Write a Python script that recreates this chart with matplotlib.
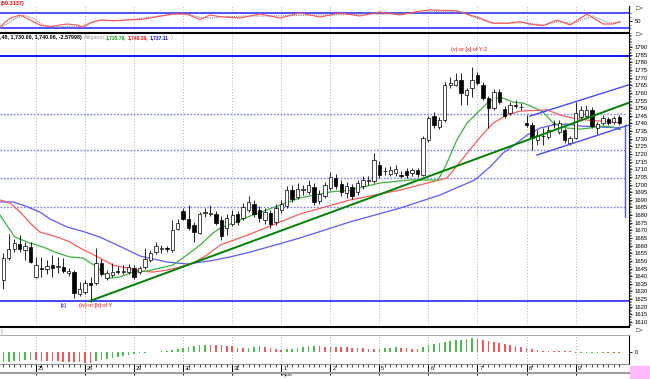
import matplotlib
matplotlib.use("Agg")
import matplotlib.pyplot as plt
from matplotlib.lines import Line2D
from matplotlib.patches import Rectangle

plt.rcParams['font.family'] = ['Liberation Sans', 'DejaVu Sans']

# ---- price bars
opens = [1637.5, 1651.9, 1657.8, 1661.1, 1657.1, 1659.1, 1639.5, 1645.4, 1644.7, 1647.3,
         1646.0, 1646.0, 1642.1, 1642.7, 1628.3, 1629.6, 1635.5, 1635.5, 1648.6, 1638.8,
         1640.8, 1643.4, 1643.0, 1642.7, 1645.4, 1642.7, 1646.0, 1650.6, 1655.8, 1657.8,
         1658.1, 1657.1, 1670.9, 1682.7, 1677.4, 1673.5, 1668.3, 1681.4, 1681.0, 1680.7,
         1676.8, 1671.5, 1674.2, 1680.7, 1678.1, 1683.3, 1687.2, 1683.3, 1676.8, 1681.3,
         1675.5, 1683.3, 1686.0, 1696.4, 1691.8, 1696.4, 1695.1, 1698.4, 1689.2, 1692.5,
         1697.7, 1704.3, 1700.3, 1694.4, 1698.4, 1695.1, 1699.0, 1702.3, 1702.3, 1712.8,
         1708.9, 1706.9, 1707.5, 1706.2, 1708.8, 1707.5, 1709.5, 1706.2, 1729.1, 1744.8,
         1737.6, 1742.2, 1765.1, 1765.1, 1768.4, 1758.6, 1763.2, 1771.7, 1765.1, 1756.6,
         1750.1, 1760.5, 1749.4, 1746.8, 1752.0, 1750.7, 1740.3, 1739.0, 1729.1, 1731.7,
         1731.1, 1739.6, 1734.4, 1735.7, 1727.2, 1730.4, 1744.2, 1744.8, 1748.8, 1737.0,
         1740.3, 1742.9, 1740.9, 1744.2]
highs = [1655.2, 1667.6, 1664.3, 1667.0, 1662.4, 1662.4, 1652.6, 1652.6, 1650.6, 1653.9,
         1652.6, 1651.9, 1645.4, 1644.0, 1636.2, 1637.5, 1639.5, 1658.4, 1651.2, 1644.0,
         1648.6, 1646.7, 1647.3, 1648.0, 1647.3, 1646.7, 1658.4, 1657.1, 1662.4, 1660.4,
         1659.7, 1676.8, 1677.4, 1684.6, 1686.6, 1675.5, 1682.0, 1684.6, 1686.6, 1682.7,
         1679.4, 1680.7, 1683.3, 1682.7, 1687.9, 1692.5, 1689.9, 1686.0, 1684.6, 1683.3,
         1687.2, 1689.9, 1699.0, 1699.7, 1701.0, 1699.7, 1703.0, 1701.0, 1696.4, 1701.6,
         1708.2, 1706.9, 1703.0, 1701.6, 1700.3, 1703.0, 1705.6, 1705.6, 1720.6, 1715.4,
         1711.5, 1712.1, 1712.8, 1708.8, 1710.8, 1710.8, 1710.8, 1731.7, 1744.8, 1747.5,
         1744.2, 1767.1, 1770.4, 1773.0, 1773.0, 1763.2, 1776.9, 1773.6, 1767.1, 1757.9,
         1762.5, 1762.5, 1751.4, 1754.0, 1755.3, 1753.3, 1745.5, 1740.9, 1735.7, 1737.0,
         1738.3, 1742.2, 1742.2, 1737.0, 1731.7, 1754.0, 1751.4, 1752.0, 1750.7, 1740.9,
         1745.5, 1744.2, 1744.8, 1745.5]
lows = [1631.6, 1650.6, 1655.8, 1655.8, 1650.6, 1648.6, 1638.8, 1639.5, 1641.4, 1639.5,
        1642.1, 1642.1, 1640.1, 1625.7, 1627.0, 1628.3, 1623.1, 1634.2, 1640.1, 1637.5,
        1639.5, 1641.4, 1641.4, 1641.4, 1638.2, 1641.4, 1644.7, 1649.3, 1654.5, 1655.2,
        1655.8, 1655.8, 1670.2, 1676.8, 1670.2, 1662.4, 1667.6, 1678.7, 1679.4, 1673.5,
        1663.7, 1667.0, 1672.8, 1673.5, 1676.8, 1682.0, 1678.7, 1675.5, 1674.2, 1671.5,
        1673.5, 1681.3, 1684.6, 1688.6, 1690.5, 1693.1, 1693.8, 1686.6, 1687.2, 1691.2,
        1696.4, 1697.1, 1692.5, 1691.2, 1690.5, 1693.1, 1697.1, 1699.7, 1701.0, 1704.3,
        1706.2, 1705.6, 1705.6, 1704.3, 1704.3, 1705.6, 1704.9, 1705.6, 1727.8, 1737.0,
        1736.3, 1740.9, 1763.2, 1764.5, 1752.0, 1752.0, 1757.3, 1765.1, 1755.3, 1737.0,
        1748.8, 1752.7, 1743.5, 1745.5, 1750.1, 1748.8, 1737.6, 1722.6, 1725.9, 1725.9,
        1729.8, 1737.0, 1733.1, 1727.2, 1725.9, 1729.8, 1742.9, 1743.5, 1737.0, 1733.1,
        1739.0, 1739.0, 1739.6, 1739.0]
closes = [1651.9, 1657.8, 1661.7, 1657.8, 1659.7, 1649.3, 1647.3, 1644.9, 1646.7, 1645.4,
          1646.3, 1643.4, 1643.4, 1629.0, 1631.6, 1635.5, 1634.2, 1648.6, 1641.4, 1642.1,
          1642.7, 1643.0, 1643.4, 1646.0, 1639.5, 1645.4, 1651.2, 1655.2, 1659.7, 1658.1,
          1657.8, 1670.2, 1674.8, 1677.4, 1671.5, 1668.9, 1680.7, 1681.7, 1681.4, 1674.8,
          1666.3, 1678.1, 1680.0, 1675.5, 1685.3, 1688.6, 1680.7, 1678.1, 1682.0, 1674.2,
          1684.6, 1687.2, 1696.4, 1690.5, 1697.1, 1696.8, 1699.7, 1688.6, 1693.8, 1699.7,
          1704.9, 1699.0, 1695.1, 1699.0, 1692.5, 1701.0, 1703.0, 1702.6, 1716.0, 1706.2,
          1708.6, 1709.5, 1710.2, 1705.9, 1706.2, 1709.5, 1706.9, 1730.4, 1743.5, 1739.0,
          1742.2, 1765.1, 1766.4, 1768.4, 1759.9, 1761.9, 1768.4, 1766.4, 1756.6, 1750.1,
          1760.5, 1754.0, 1744.8, 1752.0, 1751.7, 1750.9, 1739.0, 1730.4, 1732.4, 1731.8,
          1735.7, 1739.9, 1740.3, 1729.1, 1730.4, 1746.8, 1748.8, 1748.8, 1738.3, 1739.6,
          1743.5, 1740.3, 1743.5, 1740.3]

# ---- alligator lines (sampled off the chart, x in bar numbers)
jaw_x = [-0.6, 1.8, 4.0, 6.7, 8.6, 11.7, 15.0, 17.7, 20.9, 25.1, 30.0, 33.7, 37.9, 41.6, 45.3,
         54.4, 63.6, 72.8, 80.1, 86.5, 89.3, 91.7, 93.5, 96.1, 98.5, 100.9, 103.4, 105.8, 109.5, 113.2]
jaw_y = [1688.6, 1688.6, 1686.0, 1682.0, 1677.4, 1672.2, 1668.9, 1665.6, 1660.4, 1653.2, 1649.3,
         1648.0, 1650.0, 1652.6, 1655.8, 1665.0, 1675.5, 1684.6, 1693.1, 1703.0, 1711.5, 1720.6,
         1725.2, 1732.4, 1737.0, 1739.0, 1739.6, 1738.3, 1737.6, 1737.1]
teeth_x = [-0.6, 1.2, 3.1, 4.9, 6.7, 8.6, 10.4, 12.2, 14.1, 15.9, 17.7, 20.1, 22.7, 25.1, 27.5,
           30.0, 32.4, 34.8, 37.4, 39.8, 45.3, 54.4, 63.6, 72.8, 81.4, 84.4, 87.5, 89.9, 92.4,
           94.8, 99.8, 102.2, 104.5, 107.1, 109.5, 113.2]
teeth_y = [1689.9, 1687.9, 1682.0, 1674.8, 1668.9, 1667.0, 1665.0, 1662.4, 1658.4, 1655.2, 1651.9,
           1647.3, 1645.4, 1643.4, 1642.7, 1644.0, 1646.0, 1648.6, 1653.9, 1660.4, 1667.6, 1680.7,
           1689.9, 1696.4, 1704.3, 1717.4, 1731.1, 1740.3, 1745.5, 1748.1, 1748.8, 1745.5, 1743.5,
           1742.2, 1741.6, 1740.4]
lips_x = [-0.6, 2.1, 4.9, 7.3, 9.9, 12.2, 14.6, 17.2, 18.3, 19.6, 21.4, 23.8, 26.4, 28.8, 31.1,
          33.7, 36.1, 38.5, 39.8, 45.3, 50.8, 54.4, 59.9, 63.6, 69.1, 74.6, 79.8, 81.4, 83.2, 85.1,
          86.9, 88.8, 90.2, 91.7, 93.5, 95.4, 97.2, 99.0, 100.9, 103.4, 105.8, 107.6, 109.5, 111.9, 113.2]
lips_y = [1680.0, 1665.6, 1661.7, 1659.1, 1655.2, 1652.6, 1651.9, 1646.0, 1642.1, 1638.8, 1639.5,
          1642.7, 1643.4, 1645.4, 1647.3, 1653.9, 1660.4, 1668.3, 1671.5, 1679.4, 1686.6, 1691.2,
          1695.1, 1696.4, 1701.0, 1703.0, 1703.0, 1714.1, 1729.1, 1740.3, 1746.8, 1753.3, 1756.6,
          1756.6, 1754.0, 1753.3, 1750.7, 1747.5, 1740.3, 1737.0, 1736.3, 1737.0, 1738.3, 1737.6, 1735.8]

# ---- drawn lines
trend_x = [15.9, 114.8]
trend_y = [1623.8, 1753.6]
chan_up_x = [96.6, 114.8]
chan_up_y = [1744.8, 1765.3]
chan_lo_x = [97.9, 114.8]
chan_lo_y = [1719.3, 1739.0]
solid_levels = [1784.1, 1623.8]
dotted_levels = [1746.1, 1722.6, 1704.3, 1685.3]
vline_x = 114.07
vline_y = [1678.9, 1739.0]

# ---- stochastic (top panel)
stoch_x = [-0.6, 1.2, 3.1, 6.7, 8.6, 10.4, 11.7, 13.5, 14.6, 15.9, 17.7, 20.1, 22.7, 25.1, 27.5,
           30.0, 31.1, 33.7, 34.8, 36.1, 37.9, 39.8, 43.4, 47.1, 50.8, 54.4, 58.1, 61.8, 65.4,
           69.1, 72.8, 76.5, 78.3, 83.2, 85.6, 87.5, 89.9, 92.4, 94.8, 96.6, 99.0, 101.6, 104.0,
           107.1, 110.0, 111.9, 113.2]
stoch_k = [25, 60, 73, 33, 26, 33, 37, 33, 24, 40, 53, 50, 53, 55, 63, 73, 77, 77, 66, 55, 73, 66,
           61, 77, 61, 81, 65, 81, 69, 85, 73, 89, 93, 90, 73, 60, 40, 40, 46, 37, 30, 53, 33, 77,
           37, 37, 46]
sig_x = [-0.6, 1.8, 3.6, 5.5, 7.3, 9.1, 11.7, 14.1, 16.4, 18.3, 20.9, 23.8, 26.9, 30.0, 32.4, 34.3,
         36.1, 38.5, 39.8, 45.3, 48.9, 52.6, 56.3, 59.9, 63.6, 67.3, 70.9, 74.6, 78.3, 83.8, 86.2,
         89.3, 92.4, 95.4, 99.0, 101.6, 104.5, 108.2, 111.3, 113.2]
sig_d = [20, 53, 73, 60, 33, 26, 26, 26, 46, 53, 50, 56, 64, 73, 77, 73, 64, 60, 66, 69, 69, 70,
         73, 73, 75, 77, 77, 81, 86, 86, 66, 42, 40, 42, 33, 46, 40, 69, 40, 46]

# ---- oscillator histogram (bottom panel)
ao = [-10.0, -9.6, -9.2, -8.8, -8.4, -8.0, -8.3, -8.6, -8.9, -9.2, -9.4, -9.6, -9.8, -10.1, -10.4,
      -10.7, -11.0, -8.5, -7.7, -6.7, -5.5, -4.5, -3.5, -2.5, -1.8, -1.2, -0.8, -0.4, 0.3, 0.8,
      1.3, 2.0, 3.0, 4.5, 5.5, 6.0, 6.8, 7.5, 7.2, 7.0, 6.8, 6.5, 6.0, 4.5, 4.0, 4.5, 5.0, 6.0,
      5.0, 4.0, 3.5, 2.5, 2.8, 3.0, 4.0, 5.0, 6.0, 6.5, 6.0, 5.5, 5.3, 5.1, 5.0, 4.8, 4.5, 4.0,
      3.7, 3.4, 3.0, 3.5, 4.0, 4.5, 5.0, 4.5, 4.0, 3.5, 3.0, 5.0, 7.0, 8.0, 9.5, 10.5, 11.5, 12.0,
      12.5, 13.5, 14.0, 13.0, 12.0, 11.0, 10.0, 9.0, 8.0, 7.0, 6.0, 5.0, 4.0, 3.2, 2.4, 1.2, 1.0,
      0.9, 0.8, 0.7, 0.6, -1.2, -1.0, -0.9, -0.8, -0.7, -0.6, -0.8, -1.0, -0.8]

day_bars = [6, 15, 24, 33, 42, 51, 60, 69, 78, 87, 96, 105]
day_labels = ['25', '26', '29', '30', '31', '1', '2', '5', '6', '7', '8', '9']

W, H = 650, 379
fig = plt.figure(figsize=(6.5, 3.79), dpi=100)
fig.patch.set_facecolor('white')


def fx(px):
    return px / W


def fy(py):
    return 1 - py / H


X0, X1 = -0.61, 114.8
RIGHT = 629
n = len(opens)
idx = list(range(n))

ax_top = fig.add_axes([0, fy(31), fx(RIGHT), (31 - 6) / H])
ax = fig.add_axes([0, fy(326), fx(RIGHT), (326 - 33) / H])
ax_ao = fig.add_axes([0, fy(364), fx(RIGHT), (364 - 335) / H])

for a in (ax_top, ax, ax_ao):
    a.set_xlim(X0, X1)
    for s in ('left', 'top', 'bottom'):
        a.spines[s].set_visible(False)
    a.spines['right'].set_linewidth(0.8)
    a.yaxis.tick_right()
    a.tick_params(axis='y', which='major', length=2.5, width=0.6, labelsize=4.2, pad=1.5)
    a.tick_params(axis='y', which='minor', length=1.2, width=0.4)
    a.set_xticks([])
    for d in day_bars:
        a.axvline(d, color='#b4b4b4', ls=(0, (1, 2)), lw=0.7, zorder=0)

# ---- main price panel
ax.set_ylim(1607.4, 1799.2)
ax.set_yticks(range(1610, 1791, 5))
ax.set_yticks(range(1608, 1800), minor=True)

for lv in dotted_levels:
    ax.plot([X0, vline_x], [lv, lv], color='#7b7bff', ls=(0, (1.2, 1.2)), lw=1.0, zorder=1)
ax.axhline(solid_levels[0], color='#1414ff', lw=1.4, zorder=1)
ax.axhline(solid_levels[1], color='#1414ff', lw=1.1, zorder=1)
ax.plot([vline_x, vline_x], vline_y, color='#5050ff', lw=1.0, zorder=1)

ax.plot(jaw_x, jaw_y, color='#5a5aff', lw=0.9, zorder=2)
ax.plot(teeth_x, teeth_y, color='#ff5a5a', lw=0.9, zorder=2)
ax.plot(lips_x, lips_y, color='#3cb43c', lw=0.9, zorder=2)

ax.vlines(idx, lows, highs, color='black', lw=0.6, zorder=3)
bottoms = [min(o, c) for o, c in zip(opens, closes)]
heights = [max(abs(c - o), 0.35) for o, c in zip(opens, closes)]
body_cols = ['white' if c >= o else 'black' for o, c in zip(opens, closes)]
ax.bar(idx, heights, bottom=bottoms, width=0.62, color=body_cols,
       edgecolor='black', linewidth=0.5, zorder=4)

ax.plot(trend_x, trend_y, color='#008000', lw=1.4, zorder=5)
ax.plot(chan_up_x, chan_up_y, color='#4848ff', lw=1.0, zorder=5)
ax.plot(chan_lo_x, chan_lo_y, color='#4848ff', lw=1.0, zorder=5)

ax.text(85.5, 1788.7, '(v) or [x] of Y-2', color='red', fontsize=4, ha='center', va='center')
ax.text(11.0, 1621.0, '[c]', color='blue', fontsize=4, ha='center', va='center')
ax.text(16.9, 1621.0, '(iv) or [b] of Y', color='red', fontsize=4, ha='center', va='center')

# ---- stochastic panel
ax_top.set_ylim(9, 109)
ax_top.axhline(80, color='#2020ff', lw=1.1)
ax_top.axhline(20, color='#2020ff', lw=1.1)
ax_top.plot(stoch_x, stoch_k, color='#ff5050', lw=0.8, zorder=3)
ax_top.plot(sig_x, sig_d, color='#808080', lw=0.8, ls=(0, (1, 1)), zorder=2)
ax_top.set_yticks([50])
ax_top.set_yticks([20, 35, 65, 80], minor=True)

# ---- histogram panel
ax_ao.set_ylim(-12, 17)
ao_cols = []
for i, v in enumerate(ao):
    up = i == 0 or v >= ao[i - 1]
    ao_cols.append('#4cbc4c' if up else '#f25858')
ax_ao.bar(idx, ao, width=0.3, color=ao_cols, zorder=2)
ax_ao.set_yticks([0])
ax_ao.spines['top'].set_visible(True)
ax_ao.spines['top'].set_color('#9a9a9a')
ax_ao.spines['top'].set_linewidth(0.6)
ax_ao.spines['bottom'].set_visible(True)
ax_ao.spines['bottom'].set_color('#777777')
ax_ao.spines['bottom'].set_linewidth(0.6)
ax_ao.set_xticks(day_bars)
ax_ao.set_xticks(idx, minor=True)
ax_ao.tick_params(axis='x', which='major', length=8, width=0.7, labelbottom=False)
ax_ao.tick_params(axis='x', which='minor', length=2.5, width=0.5)
tr = ax_ao.get_xaxis_transform()
for d, lab in zip(day_bars, day_labels):
    ax_ao.text(d + 0.35, -0.17, lab, transform=tr, fontsize=4, ha='left', va='center')
ax_ao.text(51 + 0.1, -0.36, 'April', transform=tr, fontsize=3.8, ha='left', va='center')

# ---- frame lines, headers
fig.add_artist(Line2D([0, fx(RIGHT)], [fy(33), fy(33)], color='black', lw=1.5))
fig.add_artist(Line2D([0, fx(RIGHT)], [fy(327), fy(327)], color='black', lw=1.5))
fig.add_artist(Line2D([0, fx(RIGHT)], [fy(373), fy(373)], color='#a0a0a0', lw=1.5))
fig.add_artist(Rectangle((fx(630), 0), fx(20), (379 - 366) / H,
                         transform=fig.transFigure, color='#ffb8f8'))

fig.text(fx(1), fy(3), '(50.3137)', color='red', fontsize=4, fontweight='bold', va='center')
header = [(0, ',48, 1,730.00, 1,740.06, -2.57998)', 'black', 'bold', 3.9),
          (84, 'Alligator', '#9a9a9a', 'normal', 3.9),
          (103, '(', '#9a9a9a', 'normal', 3.9),
          (106, '1,735.79,', '#00a000', 'bold', 3.5),
          (128, '1,740.36,', 'red', 'bold', 3.5),
          (150, '1,737.11', 'blue', 'bold', 3.5),
          (171, ')', '#9a9a9a', 'normal', 3.9)]
for px, txt, col, wt, fs in header:
    fig.text(fx(px), fy(38), txt, color=col, fontsize=fs, fontweight=wt, va='center')
fig.text(fx(1), fy(331), ')', color='#777777', fontsize=3.9, va='center')
for py in (9, 34, 330):
    fig.text(fx(636), fy(py), '\u25a1\u00d7', color='#333333', fontsize=4.2, va='center')

fig.savefig('out.png', dpi=100)
